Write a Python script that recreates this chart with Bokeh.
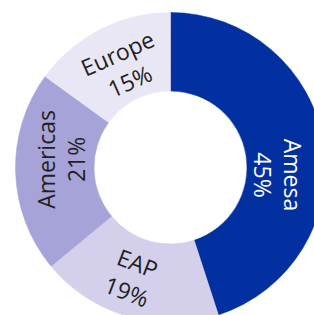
import math
from bokeh.plotting import figure
from bokeh.models import Range1d, ColumnDataSource
from bokeh.core.properties import value
from bokeh.embed import file_html
from bokeh.resources import INLINE

# data
regions = ["Amesa", "EAP", "Americas", "Europe"]
shares = [45, 19, 21, 15]

# styles
colors = ["#0330a0", "#d4d0ec", "#a6a3d8", "#e9e7f6"]
text_colors = ["#ffffff", "#231f20", "#231f20", "#231f20"]
label_rot_deg = [-90, -21, 90, 24]
label_nudge_deg = [13, 3, 6, 2]
label_r = [108, 116, 110, 111]
INNER, OUTER = 76.5, 155

W, H = 314, 315
cx_px, cy_px = 170, 167  # center in figure pixels from left/top

p = figure(width=W, height=H, output_backend="svg", toolbar_location=None,
           x_range=Range1d(-cx_px, W - cx_px), y_range=Range1d(-(H - cy_px), cy_px),
           min_border=0)
p.axis.visible = False
p.grid.visible = False
p.outline_line_color = None
p.background_fill_color = "white"
p.border_fill_color = "white"

total = sum(shares)
starts, ends, lx, ly, lt, la = [], [], [], [], [], []
acc = 0.0
for i, (r, s) in enumerate(zip(regions, shares)):
    t1 = acc / total * 360.0
    t2 = (acc + s) / total * 360.0
    acc += s
    starts.append(math.radians(90 - t1))
    ends.append(math.radians(90 - t2))
    mid = (t1 + t2) / 2 + label_nudge_deg[i]
    lx.append(label_r[i] * math.sin(math.radians(mid)))
    ly.append(label_r[i] * math.cos(math.radians(mid)))
    lt.append(f"{r}\n{s}%")
    la.append(math.radians(label_rot_deg[i]))

src = ColumnDataSource(dict(start=starts, end=ends, color=colors))
p.annular_wedge(x=0, y=0, inner_radius=INNER, outer_radius=OUTER,
                start_angle="start", end_angle="end", direction="clock",
                fill_color="color", line_color="color", line_width=0.5, source=src)

tsrc = ColumnDataSource(dict(x=lx, y=ly, text=lt, angle=la, color=text_colors))
p.text(x="x", y="y", text="text", angle="angle", text_color="color", source=tsrc,
       text_font=value("Open Sans"), text_font_size="23px",
       text_align="center", text_baseline="middle", text_line_height=0.95)

open("out.html", "w").write(file_html(p, INLINE))
